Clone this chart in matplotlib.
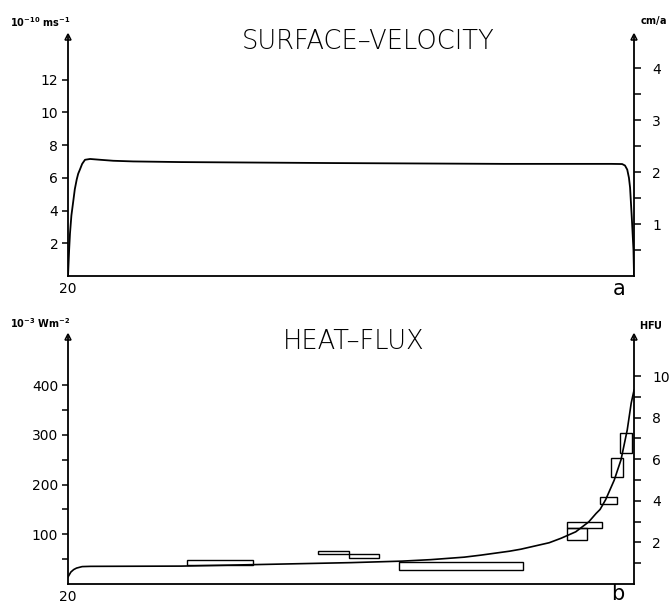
import numpy as np
import matplotlib.pyplot as plt
from matplotlib.patches import Rectangle

# ---------------- data ----------------
# x is position along the profile, scaled 0..1000 (axis labelled "20" at the left end)
vel_x = [0, 2, 3.5, 6, 9.4, 12, 15.4, 18, 21, 25, 30, 39, 57, 80, 115, 200, 469, 770, 960, 979, 984, 988, 991, 993, 996, 999, 1000]
vel_y = [0, 1.6, 2.6, 3.7, 4.6, 5.3, 5.9, 6.25, 6.5, 6.85, 7.1, 7.15, 7.1, 7.04, 7.0, 6.96, 6.9, 6.85, 6.85, 6.84, 6.75, 6.5, 6.0, 5.4, 3.6, 1.6, 0]  # 1e-10 m/s

hf_x = [0, 5, 10, 15, 25, 40, 200, 330, 500, 590, 641, 700, 729, 780, 800, 850, 871, 897, 920, 933, 940, 950, 965, 977, 988, 995, 1000]
hf_y = [14, 24, 29, 32, 35, 35.5, 36, 39, 43, 46, 49, 54, 58, 66, 70, 83, 92, 105, 125, 142, 150, 170, 209, 250, 310, 364, 390]  # mW/m2

# observed heat-flow boxes (x range, flux range)
box_x0 = [211, 441, 496, 584, 881, 881, 940, 959, 975]
box_x1 = [327, 496, 550, 804, 943, 917, 970, 981, 996]
box_y0 = [38, 60, 52, 28, 113, 88, 161, 215, 264]
box_y1 = [48, 66, 60, 44, 125, 113, 175, 254, 304]

CMA = 3.17    # 1 cm/a in 1e-10 m/s
HFU = 41.84   # 1 HFU in mW/m2

plt.rcParams['font.family'] = 'DejaVu Sans'

fig = plt.figure(figsize=(6.72, 6.07), dpi=100)
ax1 = fig.add_axes([0.1012, 0.5453, 0.8423, 0.3937])
ax2 = fig.add_axes([0.1012, 0.0379, 0.8423, 0.4069])


def style_axis(ax, top, right_top, left_major, left_minor, right_major, right_minor):
    ax.set_xlim(0, 1000)
    ax.set_ylim(0, top)
    for s in ['top', 'right']:
        ax.spines[s].set_visible(False)
    ax.spines['left'].set_linewidth(1.3)
    ax.spines['bottom'].set_linewidth(1.3)
    ax.set_xticks([0])
    ax.set_xticklabels(['20'])
    ax.tick_params(axis='x', length=0, pad=4, labelsize=10)
    ax.set_yticks(left_major)
    ax.set_yticks(left_minor, minor=True)
    ax.tick_params(axis='y', which='both', length=4, width=1.1, pad=3, labelsize=10)

    tw = ax.twinx()
    tw.set_ylim(0, right_top)
    for s in ['top', 'left', 'bottom']:
        tw.spines[s].set_visible(False)
    tw.spines['right'].set_linewidth(1.3)
    tw.set_yticks(right_major)
    tw.set_yticks(right_minor, minor=True)
    tw.tick_params(axis='y', which='both', length=5, width=1.1, pad=8, labelsize=10)

    # arrow heads at top of both vertical axes
    ax.plot([0, 1], [1, 1], transform=ax.transAxes, ls='none', marker='^', ms=5,
            mfc='white', mec='k', mew=1.1, clip_on=False)
    return tw


# ---------------- a) surface velocity ----------------
tw1 = style_axis(ax1, 14.6, 14.6 / CMA, [2, 4, 6, 8, 10, 12], [],
                 [1, 2, 3, 4], [0.5, 1.5, 2.5, 3.5])
ax1.plot(vel_x, vel_y, color='k', lw=1.3)
fig.text(0.548, 0.932, 'SURFACE\u2013VELOCITY', fontsize=18.5, fontweight='light',
         ha='center', va='center')
fig.text(0.015, 0.963, r'$\mathbf{10^{-10}\ ms^{-1}}$', fontsize=7, va='center')
fig.text(0.952, 0.966, r'$\mathbf{cm/a}$', fontsize=7, va='center')
fig.text(0.921, 0.524, 'a', fontsize=15, ha='center', va='center')

# ---------------- b) heat flux ----------------
tw2 = style_axis(ax2, 497, 497 / HFU, [100, 200, 300, 400], [50, 150, 250, 350],
                 [2, 4, 6, 8, 10], [1, 3, 5, 7, 9])
ax2.plot(hf_x, hf_y, color='k', lw=1.2)
for x0, x1, y0, y1 in zip(box_x0, box_x1, box_y0, box_y1):
    ax2.add_patch(Rectangle((x0, y0), x1 - x0, y1 - y0, fill=False, ec='k', lw=1.0))
fig.text(0.527, 0.438, 'HEAT\u2013FLUX', fontsize=18.5, fontweight='light',
         ha='center', va='center')
fig.text(0.015, 0.468, r'$\mathbf{10^{-3}\ Wm^{-2}}$', fontsize=7, va='center')
fig.text(0.951, 0.465, r'$\mathbf{HFU}$', fontsize=7, va='center')
fig.text(0.920, 0.021, 'b', fontsize=15, ha='center', va='center')

fig.savefig('out.png', dpi=100)
